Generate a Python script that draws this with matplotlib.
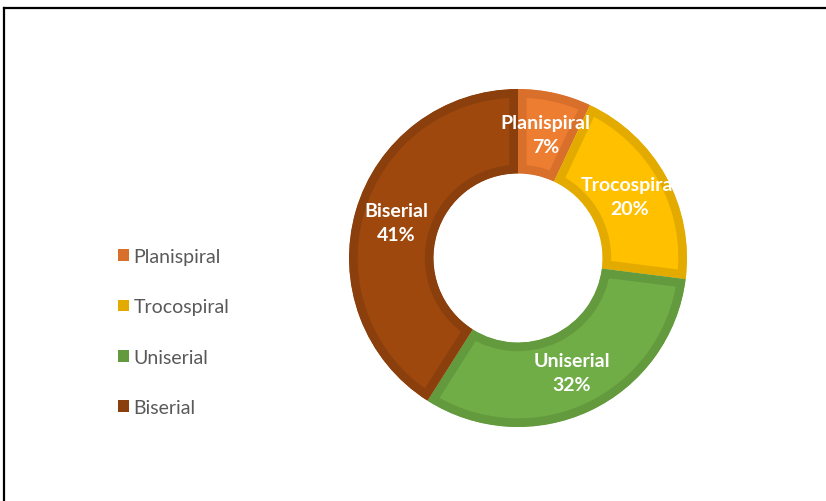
import matplotlib

matplotlib.use("Agg")

import numpy as np
import matplotlib.pyplot as plt
from matplotlib.lines import Line2D
from matplotlib.patches import Patch

plt.rcParams["font.family"] = ["Lato", "DejaVu Sans"]

categories = ["Planispiral", "Trocospiral", "Uniserial", "Biserial"]
shares = [7, 20, 32, 41]
fill_colors = ["#ED7D31", "#FFC000", "#70AD47", "#9E480E"]
edge_colors = ["#D8702C", "#E3AB00", "#639A3E", "#8A3F0C"]

fig = plt.figure(figsize=(8.26, 5.02), dpi=100)

# donut centred at (518, 259) px with an outer radius of 169 px
ax = fig.add_axes([349 / 826, 74 / 502, 338 / 826, 338 / 502])
wedges, _ = ax.pie(
    shares,
    startangle=90,
    counterclock=False,
    radius=1.0,
    colors=fill_colors,
    wedgeprops=dict(width=0.5, linewidth=0),
)
for wedge, edge in zip(wedges, edge_colors):
    # inner stroke: clip a wide outline to the wedge itself
    wedge.set_edgecolor(edge)
    wedge.set_linewidth(12.5)
    wedge.set_joinstyle("miter")
    wedge.set_clip_on(True)
    wedge.set_clip_path(wedge)

total = sum(shares)
for wedge, name, value in zip(wedges, categories, shares):
    mid = np.deg2rad((wedge.theta1 + wedge.theta2) / 2)
    ax.text(
        0.75 * np.cos(mid),
        0.75 * np.sin(mid),
        f"{name}\n{value / total:.0%}",
        ha="center",
        va="center",
        color="white",
        fontsize=14,
        fontweight="bold",
        linespacing=1.5,
        clip_on=False,
    )
ax.set_xlim(-1, 1)
ax.set_ylim(-1, 1)
ax.set_aspect("equal")
ax.axis("off")

handles = [Patch(facecolor=c, edgecolor="none") for c in edge_colors]
fig.legend(
    handles,
    categories,
    loc="center left",
    bbox_to_anchor=(118 / 826, 1 - 333 / 502),
    frameon=False,
    fontsize=14,
    labelcolor="#595959",
    handlelength=0.55,
    handleheight=0.55,
    handletextpad=0.25,
    labelspacing=1.72,
    borderpad=0,
    borderaxespad=0,
)

# partial chart frame along the top and left
fig.add_artist(Line2D([4 / 826, 1], [1 - 9 / 502, 1 - 9 / 502], color="black", linewidth=1.6, transform=fig.transFigure))
fig.add_artist(Line2D([4 / 826, 4 / 826], [0, 1 - 9 / 502], color="black", linewidth=1.6, transform=fig.transFigure))

fig.savefig("out.png", dpi=100)
plt.close(fig)
